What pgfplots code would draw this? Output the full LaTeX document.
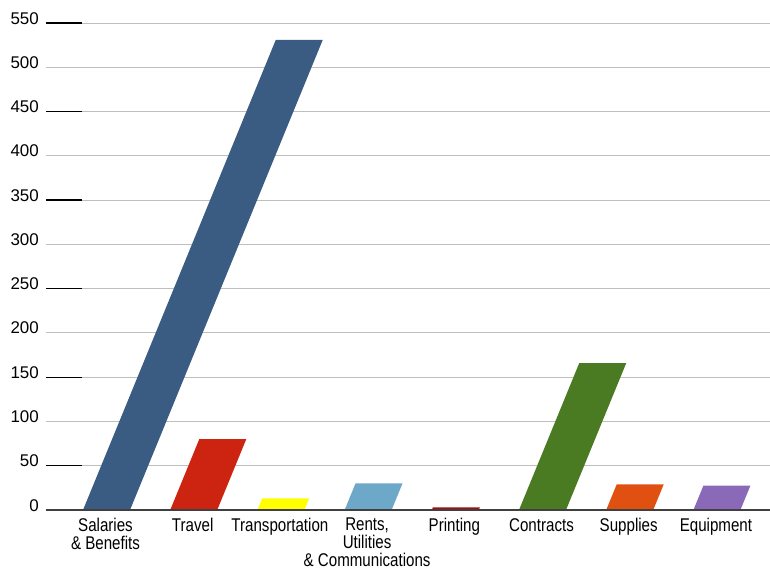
\documentclass[border=0pt]{standalone}
\usepackage{fontspec}
\setmainfont{Liberation Sans}
\newfontfamily\labfont[FakeStretch=0.82]{Liberation Sans}
\usepackage{pgfplots}
\pgfplotsset{compat=1.18}
\definecolor{cSal}{HTML}{3A5C82}
\definecolor{cTra}{HTML}{CC2410}
\definecolor{cTsp}{HTML}{FFFF00}
\definecolor{cRen}{HTML}{6EA8C8}
\definecolor{cPri}{HTML}{A01010}
\definecolor{cCon}{HTML}{4A7A22}
\definecolor{cSup}{HTML}{E05010}
\definecolor{cEqu}{HTML}{8A6AB8}
\begin{document}
\begin{tikzpicture}
\useasboundingbox (-46bp,-65bp) rectangle (724bp,510bp);
\begin{axis}[
  at={(0,0)}, anchor=south west,
  scale only axis, width=724bp, height=487bp,
  xmin=-0.694, xmax=7.609, ymin=0, ymax=550,
  axis line style={draw=none},
  clip=false,
  ytick={0,50,...,550},
  ytick pos=left,
  xtick pos=bottom,
  ymajorgrids,
  grid style={black!25, line width=0.9bp},
  major tick length=0pt,
  extra y ticks={50,150,250,350,450,550},
  extra y tick labels={},
  extra y tick style={tick align=inside, major tick length=36bp,
     major tick style={black, line width=1.2bp}, ymajorgrids=false},
  /pgf/number format/assume math mode=true,
  yticklabel style={font=\fontsize{17}{18}\selectfont, anchor=base east, inner sep=0pt, xshift=-7bp, yshift=-1bp},
  xtick={0,1,2,3,4,5,6,7},
  xticklabels={{Salaries\\\& Benefits},Travel,Transportation,{Rents,\\Utilities\\\& Communications},Printing,Contracts,Supplies,Equipment},
  xticklabel style={font=\labfont\fontsize{18.5}{18}\selectfont, align=center, anchor=north, inner sep=0pt, yshift=-8bp, xshift=-1bp},
  ybar, bar width=47bp, bar shift=0pt,
  every axis plot/.append style={draw=none, xslant=0.41},
]
\addplot[fill=cSal] coordinates {(0,531)};
\addplot[fill=cTra] coordinates {(1,80)};
\addplot[fill=cTsp] coordinates {(2,13)};
\addplot[fill=cRen] coordinates {(3,30)};
\addplot[fill=cPri] coordinates {(4,3)};
\addplot[fill=cCon] coordinates {(5,166)};
\addplot[fill=cSup] coordinates {(6,29)};
\addplot[fill=cEqu] coordinates {(7,27.5)};
\draw[black!75, line width=1.2bp] (axis cs:-0.694,0) -- (axis cs:7.609,0);
\end{axis}
\end{tikzpicture}
\end{document}
